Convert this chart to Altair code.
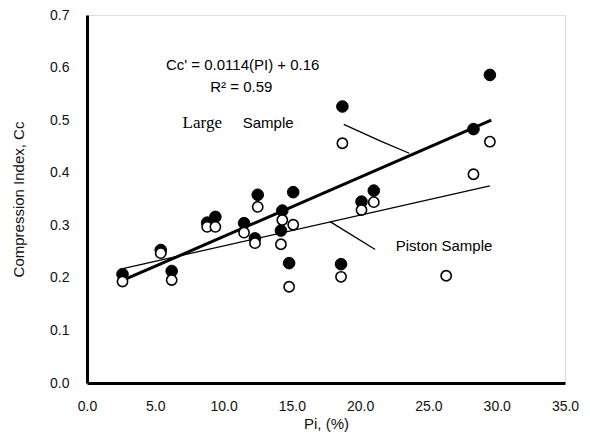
import altair as alt
import pandas as pd

# ---- data ----
pi_vals = [2.6, 5.4, 6.2, 8.8, 9.4, 11.5, 12.3, 12.5, 14.2, 14.3, 14.8, 15.1,
           18.6, 18.7, 20.1, 21.0, 26.3, 28.3, 29.5]
large_cc = [0.207, 0.253, 0.213, 0.305, 0.316, 0.304, 0.275, 0.358, 0.290, 0.328,
            0.228, 0.363, 0.226, 0.526, 0.345, 0.366, None, 0.483, 0.586]
piston_cc = [0.193, 0.247, 0.196, 0.297, 0.297, 0.286, 0.266, 0.335, 0.264, 0.310,
             0.183, 0.301, 0.202, 0.456, 0.329, 0.344, 0.204, 0.397, 0.459]

large_fit_pi = [2.6, 29.6]
large_fit_cc = [0.195, 0.500]
piston_fit_pi = [2.7, 29.5]
piston_fit_cc = [0.218, 0.375]

large_pointer_pi = [18.8, 21.5, 23.6]
large_pointer_cc = [0.492, 0.460, 0.437]
piston_pointer_pi = [17.8, 21.1]
piston_pointer_cc = [0.307, 0.254]

x_ticks = [0, 5, 10, 15, 20, 25, 30, 35]
y_ticks = [0.0, 0.1, 0.2, 0.3, 0.4, 0.5, 0.6, 0.7]

labels_text = ["Cc' = 0.0114(PI) + 0.16", "R² = 0.59", "Large", "Sample", "Piston Sample"]
labels_pi = [11.4, 11.3, 7.0, 11.4, 22.6]
labels_cc = [0.605, 0.563, 0.495, 0.495, 0.261]

# ---- tables ----
large_df = pd.DataFrame({"pi": pi_vals, "cc": large_cc}).dropna()
piston_df = pd.DataFrame({"pi": pi_vals, "cc": piston_cc})

FONT = "Liberation Sans"

xs = alt.Scale(domain=[0, 35], nice=False, zero=False)
ys = alt.Scale(domain=[0, 0.7], nice=False, zero=True)

x_axis = alt.Axis(values=x_ticks, format=".1f", title="Pi, (%)", grid=False,
                  ticks=False, tickSize=0, labelPadding=16, domainWidth=3,
                  domainColor="black", labelFont=FONT, labelFontSize=14,
                  labelColor="#111", titleFont=FONT, titleFontSize=15,
                  titleFontWeight="normal", titleColor="#111", titlePadding=3,
                  labelFlush=False)
y_axis = alt.Axis(values=y_ticks, format=".1f", title="Compression Index, Cc",
                  grid=False, ticks=False, tickSize=0, labelPadding=18,
                  domainWidth=3, domainColor="black", labelFont=FONT,
                  labelFontSize=14, labelColor="#111", titleFont=FONT,
                  titleFontSize=15, titleFontWeight="normal", titleColor="#111",
                  titlePadding=23, labelFlush=False)

X = alt.X("pi:Q", scale=xs, axis=x_axis)
Y = alt.Y("cc:Q", scale=ys, axis=y_axis)


def line_df(xv, yv):
    return pd.DataFrame({"pi": xv, "cc": yv, "order": list(range(len(xv)))})


large_pts = alt.Chart(large_df).mark_point(
    shape="circle", filled=True, fill="black", stroke="black", strokeWidth=1,
    size=135, opacity=1).encode(x=X, y=Y)
piston_pts = alt.Chart(piston_df).mark_point(
    shape="circle", filled=True, fill="white", stroke="black", strokeWidth=1.6,
    size=105, opacity=1).encode(x=X, y=Y)

large_fit = alt.Chart(line_df(large_fit_pi, large_fit_cc)).mark_line(
    color="black", strokeWidth=3).encode(x=X, y=Y, order="order:Q")
piston_fit = alt.Chart(line_df(piston_fit_pi, piston_fit_cc)).mark_line(
    color="black", strokeWidth=1.3).encode(x=X, y=Y, order="order:Q")
large_ptr = alt.Chart(line_df(large_pointer_pi, large_pointer_cc)).mark_line(
    color="black", strokeWidth=1.3).encode(x=X, y=Y, order="order:Q")
piston_ptr = alt.Chart(line_df(piston_pointer_pi, piston_pointer_cc)).mark_line(
    color="black", strokeWidth=1.3).encode(x=X, y=Y, order="order:Q")


def text_layer(i, align, font, size):
    df = pd.DataFrame({"pi": [labels_pi[i]], "cc": [labels_cc[i]], "t": [labels_text[i]]})
    return alt.Chart(df).mark_text(align=align, baseline="middle", font=font,
                                   fontSize=size, color="black").encode(
        x=X, y=Y, text="t:N")


texts = [
    text_layer(0, "center", FONT, 15),
    text_layer(1, "center", FONT, 15),
    text_layer(2, "left", "Liberation Serif", 17),
    text_layer(3, "left", FONT, 15),
    text_layer(4, "left", FONT, 15),
]

chart = alt.layer(
    piston_fit, large_fit, large_ptr, piston_ptr,
    large_pts, piston_pts, *texts
).properties(
    width=478, height=368,
    autosize=alt.AutoSizeParams(type="none"),
    padding={"left": 79, "top": 7, "right": 17, "bottom": 55},
).configure_view(stroke="black", strokeWidth=2).configure(background="white")

chart.save("out.html", embed_options={"renderer": "svg", "actions": False})
